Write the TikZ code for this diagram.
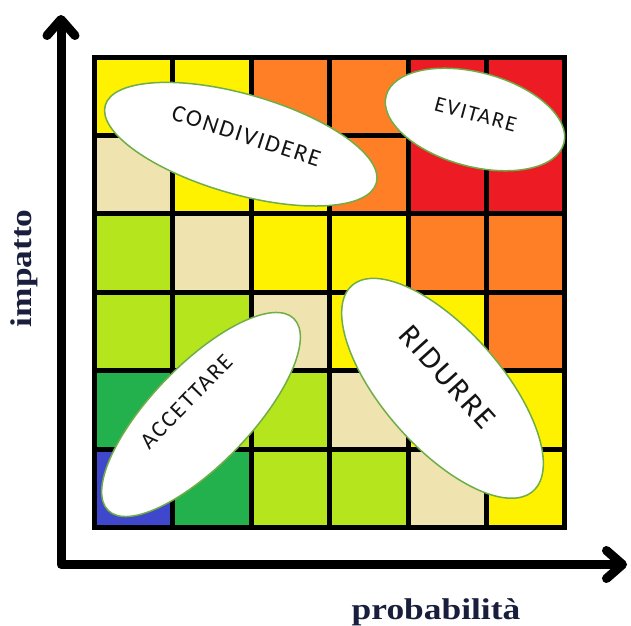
\documentclass[tikz,border=0pt]{standalone}
\usepackage{fontspec}
\usepackage{tikz}
\usetikzlibrary{shapes.geometric, arrows.meta, positioning, calc}

\newfontfamily\ovalfont{Carlito}[LetterSpace=8]
\newfontfamily\axisfont{Liberation Serif}[FakeStretch=1.18]

\definecolor{rblue}{RGB}{63,72,204}
\definecolor{rdgreen}{RGB}{34,177,76}
\definecolor{rlgreen}{RGB}{181,230,29}
\definecolor{rtan}{RGB}{239,228,176}
\definecolor{ryellow}{RGB}{255,242,0}
\definecolor{rorange}{RGB}{255,127,39}
\definecolor{rred}{RGB}{237,28,36}
\definecolor{ovalline}{RGB}{112,173,71}
\definecolor{axisink}{RGB}{25,30,60}

\begin{document}
\begin{tikzpicture}[x=1pt, y=1pt,
  oval/.style={ellipse, draw=ovalline, line width=1.5pt, fill=white, inner sep=0pt},
  ovaltext/.style={anchor=base, inner sep=0pt, text=black!92},
  axislabel/.style={anchor=base, inner sep=0pt, text=axisink, font=\axisfont\bfseries\fontsize{30}{36}\selectfont},
  gridline/.style={line width=5pt, line cap=rect}]

\useasboundingbox (0,0) rectangle (631,625);

% Risk cells, one row per entry, starting at the bottom
\foreach \rowi/\cols in {0/{rblue,rdgreen,rlgreen,rlgreen,rtan,ryellow},
                         1/{rdgreen,rlgreen,rlgreen,rtan,ryellow,ryellow},
                         2/{rlgreen,rlgreen,rtan,ryellow,ryellow,rorange},
                         3/{rlgreen,rtan,ryellow,ryellow,rorange,rorange},
                         4/{rtan,ryellow,ryellow,rorange,rred,rred},
                         5/{ryellow,ryellow,rorange,rorange,rred,rred}} {
  \foreach \cc [count=\i from 0] in \cols {
    \fill[\cc] (94.5+\i*78.4, 97.5+\rowi*78.4) rectangle ++(78.4,78.4);
  }
}

% Black grid lines
\foreach \k in {0,...,6} {
  \draw[gridline] (94.5+\k*78.4, 97.5) -- ++(0,470.4);
  \draw[gridline] (94.5, 97.5+\k*78.4) -- ++(470.4,0);
}

% Axes
\coordinate (ytop) at (61,610);
\coordinate (orig) at (61,60.5);
\coordinate (xend) at (627,60.5);
\draw[line width=9pt, line join=round,
  {Straight Barb[round, length=16pt, width=28pt]}-{Straight Barb[round, length=16pt, width=28pt]}]
  (ytop) -- (orig) -- (xend);

% Strategy ovals
\node[oval, minimum width=282pt, minimum height=100pt, rotate=-16] (share) at (240.8,480.8) {};
\node[ovaltext, rotate=-18, font=\ovalfont\fontsize{24}{28}\selectfont] (shareT) at (244,481.7) {CONDIVIDERE};

\node[oval, minimum width=184pt, minimum height=94pt, rotate=-15] (avoid) at (475,505.5) {};
\node[ovaltext, rotate=-15, font=\ovalfont\fontsize{22}{26}\selectfont] (avoidT) at (473.8,503.8) {EVITARE};

\node[oval, minimum width=267pt, minimum height=99pt, rotate=46] (accept) at (201,210.5) {};
\node[ovaltext, rotate=46, font=\ovalfont\fontsize{23}{27}\selectfont] (acceptT) at (191.7,218.3) {ACCETTARE};

\node[oval, minimum width=274pt, minimum height=118pt, rotate=-48.6] (reduce) at (442.5,236.7) {};
\node[ovaltext, rotate=-48, font=\ovalfont\fontsize{31}{35}\selectfont] (reduceT) at (440,241.7) {RIDURRE};

% Axis labels
\node[axislabel] (xlabel) at (436,5.7) {probabilità};
\node[axislabel, rotate=90] (ylabel) at (31.7,356.7) {impatto};
\end{tikzpicture}
\end{document}
